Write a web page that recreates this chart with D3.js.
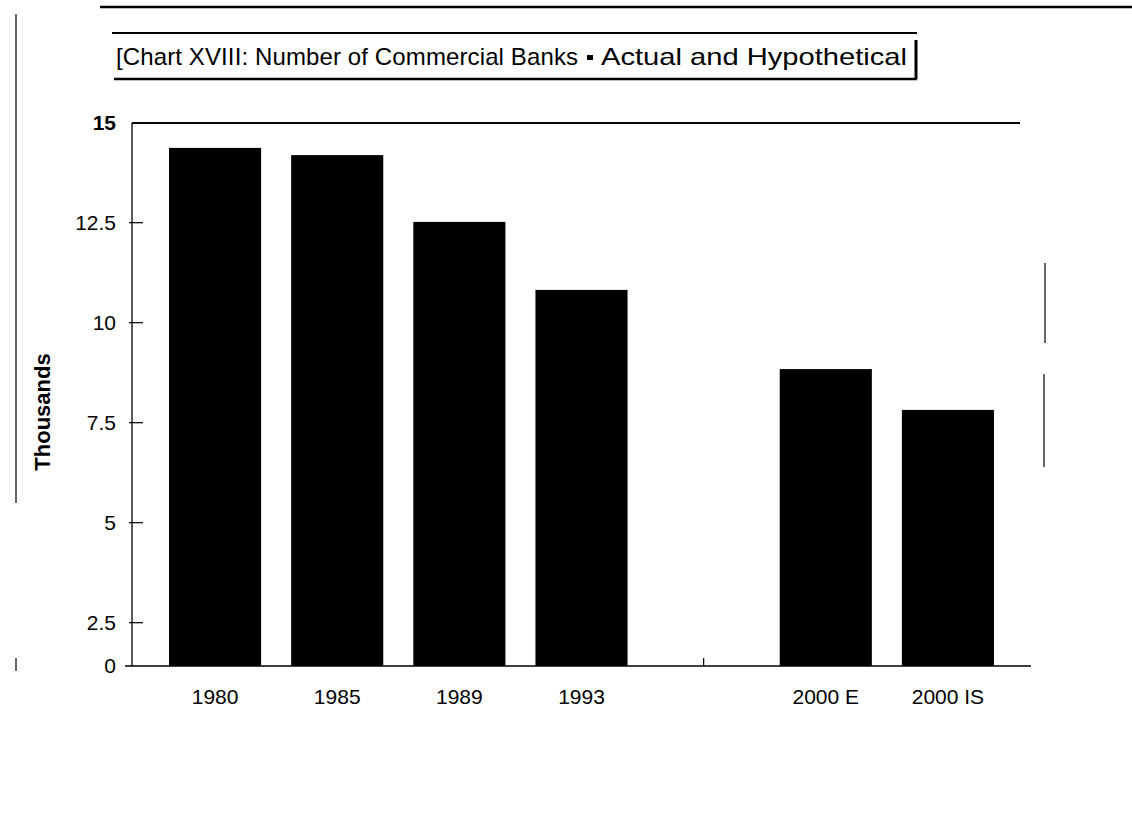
<!DOCTYPE html>
<html><head><meta charset="utf-8">
<script src="https://cdn.jsdelivr.net/npm/d3@7"></script>
<style>
html,body{margin:0;padding:0;background:#fff;}
svg{display:block;font-family:"Liberation Sans",Arial,sans-serif;}
</style></head>
<body>
<svg id="chart" width="1132" height="826"></svg>
<script>
// ---- data ----
const categories = ["1980", "1985", "1989", "1993", "", "2000 E", "2000 IS"];
const values     = [14.37, 14.19, 12.52, 10.82, null, 8.84, 7.82];   // thousands of banks
const yTickValues = [2.5, 5, 7.5, 10, 12.5, 15];
const yTickLabels = ["2.5", "5", "7.5", "10", "12.5", "15"];
const titleMain = "[Chart XVIII: Number of Commercial Banks";
const titleSub  = "Actual and Hypothetical";
const yAxisTitle = "Thousands";

const font = "'Liberation Sans',Arial,sans-serif";
const svg = d3.select("#chart");

// ---- layout ----
const plotLeft = 132, plotRight = 1031, plotTop = 123, baseY = 666;

const x = d3.scaleBand().domain(categories)
  .range([plotLeft, plotRight]).paddingInner(0.246).paddingOuter(0.303);
const y = d3.scaleLinear().domain([0, 15]).range([722.7, 122.7]);

// page decorations
svg.append("line").attr("x1",100).attr("x2",1132).attr("y1",7).attr("y2",7)
  .attr("stroke","#000").attr("stroke-width",2.5);
svg.append("line").attr("x1",16).attr("x2",16).attr("y1",14).attr("y2",503)
  .attr("stroke","#000").attr("stroke-width",1.2);
svg.append("line").attr("x1",16).attr("x2",16).attr("y1",658).attr("y2",671)
  .attr("stroke","#000").attr("stroke-width",1.2);
svg.append("line").attr("x1",1045).attr("x2",1045).attr("y1",263).attr("y2",343)
  .attr("stroke","#000").attr("stroke-width",1.2);
svg.append("line").attr("x1",1044).attr("x2",1044).attr("y1",374).attr("y2",467)
  .attr("stroke","#000").attr("stroke-width",1.2);

// title box
svg.append("line").attr("x1",112).attr("x2",917).attr("y1",33).attr("y2",33)
  .attr("stroke","#000").attr("stroke-width",2);
svg.append("line").attr("x1",114).attr("x2",917).attr("y1",79).attr("y2",79)
  .attr("stroke","#000").attr("stroke-width",2.5);
svg.append("line").attr("x1",916).attr("x2",916).attr("y1",40).attr("y2",79)
  .attr("stroke","#000").attr("stroke-width",3);

svg.append("text").attr("x",116).attr("y",65).attr("font-size",24)
  .attr("font-family",font).attr("fill","#000").text(titleMain)
  .attr("textLength", 462).attr("lengthAdjust","spacing");
svg.append("rect").attr("x",587).attr("y",55).attr("width",6).attr("height",5).attr("fill","#000");
svg.append("text").attr("x",601).attr("y",65).attr("font-size",24)
  .attr("font-family",font).attr("fill","#000").text(titleSub)
  .attr("textLength", 306).attr("lengthAdjust","spacingAndGlyphs");

// plot top frame
svg.append("line").attr("x1",plotLeft).attr("x2",1020).attr("y1",plotTop).attr("y2",plotTop)
  .attr("stroke","#000").attr("stroke-width",2);

// clip for bars (chart floor at baseY)
svg.append("clipPath").attr("id","clip").append("rect")
  .attr("x",plotLeft).attr("y",plotTop).attr("width",plotRight-plotLeft).attr("height",baseY-plotTop);

const bars = categories.map((c,i)=>({c, v: values[i]})).filter(d=>d.v!=null);
svg.append("g").attr("clip-path","url(#clip)")
  .selectAll("rect").data(bars).join("rect")
  .attr("x", d=>x(d.c)).attr("width", x.bandwidth())
  .attr("y", d=>y(d.v)).attr("height", d=>y(0)-y(d.v))
  .attr("fill","#000");

// y axis
const yAxis = d3.axisLeft(y).tickValues(yTickValues)
  .tickFormat((d,i)=>yTickLabels[i]).tickSize(0).tickPadding(16);
const gy = svg.append("g").attr("transform",`translate(${plotLeft},0)`).call(yAxis);
gy.select(".domain").remove();
gy.attr("font-family",font).attr("font-size",21);
gy.selectAll("text").attr("fill","#000")
  .attr("font-weight",d=>d===15?"bold":"normal");
svg.append("line").attr("x1",plotLeft).attr("x2",plotLeft).attr("y1",plotTop).attr("y2",baseY)
  .attr("stroke","#000").attr("stroke-width",1.3);
svg.append("g").selectAll("line").data(yTickValues.filter(v=>v<15)).join("line")
  .attr("x1",plotLeft-3).attr("x2",plotLeft+11).attr("y1",d=>y(d)).attr("y2",d=>y(d))
  .attr("stroke","#000").attr("stroke-width",1.2);
svg.append("text").attr("x",plotLeft-16).attr("y",baseY).attr("dy","0.32em")
  .attr("text-anchor","end").attr("font-size",21).attr("font-family",font)
  .attr("fill","#000").text("0");

// x axis baseline
svg.append("line").attr("x1",125).attr("x2",plotRight).attr("y1",baseY).attr("y2",baseY)
  .attr("stroke","#000").attr("stroke-width",1.5);
svg.append("line").attr("x1",x("")+x.bandwidth()/2).attr("x2",x("")+x.bandwidth()/2)
  .attr("y1",baseY-8).attr("y2",baseY).attr("stroke","#000").attr("stroke-width",1.2);

const xAxis = d3.axisBottom(x).tickSize(0).tickPadding(0);
const gx = svg.append("g").attr("transform",`translate(0,${baseY})`).call(xAxis);
gx.select(".domain").remove();
gx.attr("font-family",font).attr("font-size",21);
gx.selectAll("text").attr("fill","#000").attr("dy",0).attr("y",38);

// y axis title
svg.append("text").attr("transform","translate(50,412) rotate(-90)")
  .attr("text-anchor","middle").attr("font-size",22).attr("font-weight","bold")
  .attr("font-family",font).attr("fill","#000").text(yAxisTitle);
</script>
</body></html>
